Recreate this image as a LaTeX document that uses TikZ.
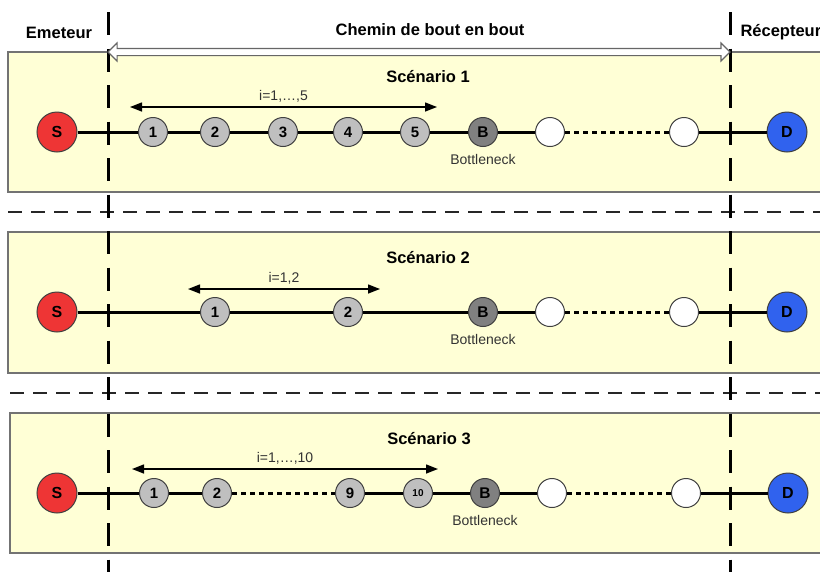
\documentclass[tikz,border=0pt]{standalone}
\usepackage{fontspec}
\setmainfont{Liberation Sans}
\usetikzlibrary{arrows.meta,positioning,shapes.arrows}

\definecolor{panelfill}{HTML}{FFFFD6}
\definecolor{srcred}{HTML}{EE3535}
\definecolor{dstblue}{HTML}{3062EE}

\begin{document}
\begin{tikzpicture}[x=1pt, y=-1pt,
    panel/.style={draw=black!55, line width=1.6pt, fill=panelfill},
    endpoint/.style={circle, draw=black!75, line width=1pt, minimum size=40pt,
        inner sep=0pt, font=\fontsize{16}{16}\selectfont\bfseries},
    relay/.style={circle, draw=black!75, line width=1pt, fill=black!25, minimum size=29pt,
        inner sep=0pt, font=\fontsize{15}{15}\selectfont\bfseries},
    bneck/.style={relay, fill=black!50, font=\fontsize{15.5}{16}\selectfont\bfseries},
    idle/.style={relay, fill=white},
    title/.style={font=\fontsize{16.5}{18}\selectfont\bfseries},
    note/.style={font=\fontsize{14}{15}\selectfont, text=black!80},
    link/.style={line width=3pt},
    gap/.style={line width=3pt, dash pattern=on 5pt off 4pt},
    span/.style={{Triangle[length=12pt,width=9pt]}-{Triangle[length=12pt,width=9pt]}, line width=1.4pt},
    border/.style={line width=3pt, dash pattern=on 23pt off 13.5pt},
    split/.style={line width=2.2pt, black!85, dash pattern=on 14pt off 9pt}
]
\useasboundingbox (0,0) rectangle (820,571);

% panels
\draw[panel] (8,52) rectangle (826,192);
\draw[panel] (8,232) rectangle (826,373);
\draw[panel] (10,413) rectangle (826,553);
\draw[split] (8,212) -- (826,212);
\draw[split] (10,393) -- (826,393);

% end to end limits
\coordinate (emtop) at (108,12);
\coordinate (embot) at (108,580);
\coordinate (rctop) at (730,12);
\coordinate (rcbot) at (730,580);
\draw[border] (emtop) -- (embot);
\draw[border] (rctop) -- (rcbot);

\node[title] (emeteur) at (59,33) {Emeteur};
\node[title] (chemin) at (430,30) {Chemin de bout en bout};
\node[title, anchor=west] (recepteur) at (737,32) {Récepteur};
\node[double arrow, draw=black!60, fill=white, line width=1.1pt,
    inner xsep=0pt, inner ysep=3pt, minimum width=0pt,
    minimum height=622pt, double arrow head extend=5.5pt,
    double arrow tip angle=90] (bout) at (419,52) {};

% scenario 1
\node[title] (titre1) at (428,77) {Scénario 1};
\node[endpoint, fill=srcred] (s1) at (57,132) {S};
\node[relay] (a1) at (153,132) {1};
\node[relay] (a2) at (215,132) {2};
\node[relay] (a3) at (283,132) {3};
\node[relay] (a4) at (348,132) {4};
\node[relay] (a5) at (415,132) {5};
\node[bneck] (b1) at (483,132) {B};
\node[idle] (u1) at (550,132) {};
\node[idle] (v1) at (684,132) {};
\node[endpoint, fill=dstblue] (d1) at (787,132) {D};
\node[note, below=4pt of b1] (bl1) {Bottleneck};
\draw[link] (s1) -- (a1) -- (a2) -- (a3) -- (a4) -- (a5) -- (b1) -- (u1);
\draw[gap] (u1) -- (v1);
\draw[link] (v1) -- (d1);
\coordinate (r1a) at (130,107);
\coordinate (r1b) at (437,107);
\draw[span] (r1a) -- node[note, above=1pt] {i=1,…,5} (r1b);

% scenario 2
\node[title] (titre2) at (428,258) {Scénario 2};
\node[endpoint, fill=srcred] (s2) at (57,312) {S};
\node[relay] (c1) at (215,312) {1};
\node[relay] (c2) at (348,312) {2};
\node[bneck] (b2) at (483,312) {B};
\node[idle] (u2) at (550,312) {};
\node[idle] (v2) at (684,312) {};
\node[endpoint, fill=dstblue] (d2) at (787,312) {D};
\node[note, below=4pt of b2] (bl2) {Bottleneck};
\draw[link] (s2) -- (c1) -- (c2) -- (b2) -- (u2);
\draw[gap] (u2) -- (v2);
\draw[link] (v2) -- (d2);
\coordinate (r2a) at (188,289);
\coordinate (r2b) at (380,289);
\draw[span] (r2a) -- node[note, above=1pt] {i=1,2} (r2b);

% scenario 3
\node[title] (titre3) at (429,439) {Scénario 3};
\node[endpoint, fill=srcred] (s3) at (57,493) {S};
\node[relay] (e1) at (154,493) {1};
\node[relay] (e2) at (217,493) {2};
\node[relay] (e9) at (350,493) {9};
\node[relay, font=\fontsize{10}{10}\selectfont\bfseries] (e10) at (418,493) {10};
\node[bneck] (b3) at (485,493) {B};
\node[idle] (u3) at (552,493) {};
\node[idle] (v3) at (686,493) {};
\node[endpoint, fill=dstblue] (d3) at (788,493) {D};
\node[note, below=4pt of b3] (bl3) {Bottleneck};
\draw[link] (s3) -- (e1) -- (e2);
\draw[gap] (e2) -- (e9);
\draw[link] (e9) -- (e10) -- (b3) -- (u3);
\draw[gap] (u3) -- (v3);
\draw[link] (v3) -- (d3);
\coordinate (r3a) at (132,469);
\coordinate (r3b) at (438,469);
\draw[span] (r3a) -- node[note, above=1pt] {i=1,…,10} (r3b);
\end{tikzpicture}
\end{document}
